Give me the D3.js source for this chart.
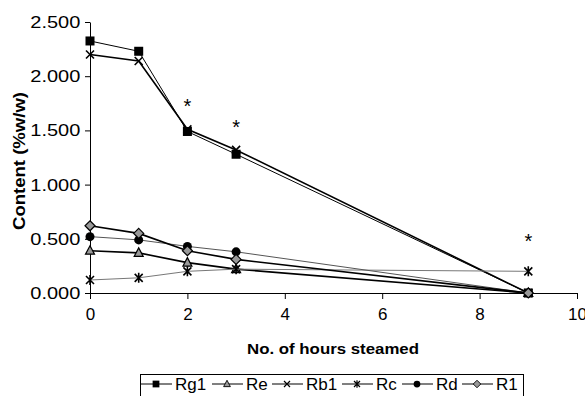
<!DOCTYPE html>
<html>
<head>
<meta charset="utf-8">
<script src="https://cdn.jsdelivr.net/npm/d3@7"></script>
<style>
  body { margin: 0; background: #fff; }
  text { font-family: Arial, "Liberation Sans", sans-serif; }
</style>
</head>
<body>
<svg width="585" height="396"></svg>
<script>
// hours steamed
var hours = [0, 1, 2, 3, 9];

// content (%w/w) per ginsenoside
var rg1 = [2.325, 2.23, 1.49, 1.28, 0];
var rb1 = [2.20, 2.14, 1.51, 1.32, 0];
var re = [0.39, 0.37, 0.28, 0.22, 0];
var rc = [0.12, 0.14, 0.20, 0.22, 0.20];
var rd = [0.52, 0.49, 0.43, 0.38, 0];
var r1 = [0.62, 0.55, 0.39, 0.31, 0];

// significance marks
var starX = [2, 3, 9];
var starY = [1.76, 1.57, 0.52];

var xTicks = [0, 2, 4, 6, 8, 10];
var yTicks = [0, 0.5, 1, 1.5, 2, 2.5];

var series = [
  {name: "Rg1", values: rg1, marker: "square", color: "#000", width: 1},
  {name: "Re", values: re, marker: "triangle", color: "#000", width: 1.6},
  {name: "Rb1", values: rb1, marker: "cross", color: "#000", width: 1.6},
  {name: "Rc", values: rc, marker: "star", color: "#777", width: 1},
  {name: "Rd", values: rd, marker: "circle", color: "#555", width: 1},
  {name: "R1", values: r1, marker: "diamond", color: "#000", width: 1.6}
];

var svg = d3.select("svg");

var x = d3.scaleLinear().domain([0, 10]).range([90, 577]);
var y = d3.scaleLinear().domain([0, 2.5]).range([293, 22]);

// axes
svg.append("g")
  .attr("transform", "translate(0,293)")
  .call(d3.axisBottom(x).tickValues(xTicks).tickSize(6).tickSizeOuter(0).tickFormat(d3.format("d")))
  .call(function(g) {
    g.selectAll("text").attr("font-size", 17).attr("dy", "1.05em");
    g.select(".domain").attr("stroke", "#000");
  });

svg.append("g")
  .attr("transform", "translate(90,0)")
  .call(d3.axisLeft(y).tickValues(yTicks).tickSize(5).tickSizeOuter(0).tickFormat(d3.format(".3f")))
  .call(function(g) {
    g.selectAll("text").attr("font-size", 17).attr("dx", "-0.1em")
      .attr("textLength", 50).attr("lengthAdjust", "spacingAndGlyphs");
    g.select(".domain").attr("stroke", "#000");
  });

// axis titles
svg.append("text")
  .attr("transform", "translate(25,161) rotate(-90)")
  .attr("text-anchor", "middle")
  .attr("font-size", 16)
  .attr("font-weight", "bold")
  .attr("textLength", 138).attr("lengthAdjust", "spacingAndGlyphs")
  .text("Content (%w/w)");

svg.append("text")
  .attr("x", 333).attr("y", 354)
  .attr("text-anchor", "middle")
  .attr("font-size", 15)
  .attr("font-weight", "bold")
  .attr("textLength", 172).attr("lengthAdjust", "spacingAndGlyphs")
  .text("No. of hours steamed");

// marker drawing
function drawMarker(g, type) {
  if (type == "square") {
    g.append("rect").attr("x", -4.5).attr("y", -4.5).attr("width", 9).attr("height", 9).attr("fill", "#000");
  } else if (type == "triangle") {
    g.append("path").attr("d", "M0,-5L4.5,3.5L-4.5,3.5Z").attr("fill", "#999").attr("stroke", "#000").attr("stroke-width", 1.2);
  } else if (type == "cross") {
    g.append("path").attr("d", "M-4,-4L4,4M4,-4L-4,4").attr("stroke", "#000").attr("stroke-width", 1.6);
  } else if (type == "star") {
    g.append("path").attr("d", "M-4,-4L4,4M4,-4L-4,4M0,-5L0,5").attr("stroke", "#000").attr("stroke-width", 1.6);
  } else if (type == "circle") {
    g.append("circle").attr("r", 4.5).attr("fill", "#000");
  } else if (type == "diamond") {
    g.append("path").attr("d", "M0,-5L5,0L0,5L-5,0Z").attr("fill", "#999").attr("stroke", "#000").attr("stroke-width", 1.2);
  }
}

var line = d3.line()
  .x(function(d) { return x(d[0]); })
  .y(function(d) { return y(d[1]); });

series.forEach(function(s) {
  var pts = hours.map(function(h, i) { return [h, s.values[i]]; });
  svg.append("path")
    .datum(pts)
    .attr("fill", "none")
    .attr("stroke", s.color)
    .attr("stroke-width", s.width)
    .attr("d", line);
  pts.forEach(function(p) {
    var g = svg.append("g").attr("transform", "translate(" + x(p[0]) + "," + y(p[1]) + ")");
    drawMarker(g, s.marker);
  });
});

// asterisks
starX.forEach(function(v, i) {
  svg.append("text")
    .attr("x", x(v)).attr("y", y(starY[i]) + 11)
    .attr("text-anchor", "middle")
    .attr("font-size", 20)
    .text("*");
});

// legend
var legend = svg.append("g");
legend.append("rect")
  .attr("x", 140.5).attr("y", 374.5).attr("width", 383).attr("height", 40)
  .attr("fill", "#fff").attr("stroke", "#000");

var legX = [141, 212, 272, 342, 402, 462];
series.forEach(function(s, i) {
  var g = legend.append("g").attr("transform", "translate(" + legX[i] + ",384)");
  g.append("line").attr("x1", 0).attr("x2", 31).attr("y1", 0).attr("y2", 0)
    .attr("stroke", "#000").attr("stroke-width", 1);
  var m = g.append("g").attr("transform", "translate(15,0) scale(0.75)");
  drawMarker(m, s.marker);
  g.append("text").attr("x", 34).attr("y", 6).attr("font-size", 17).text(s.name);
});
</script>
</body>
</html>
